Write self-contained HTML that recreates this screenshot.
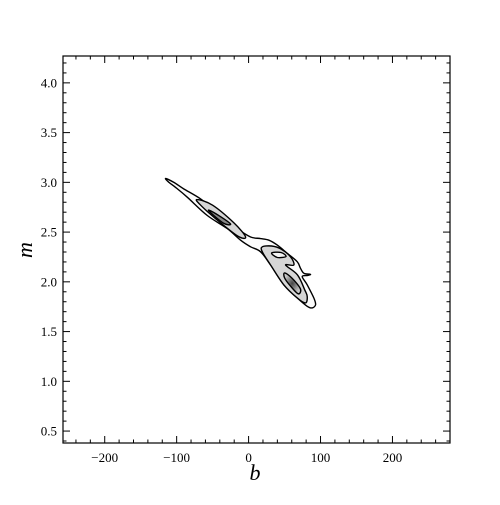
<!DOCTYPE html>
<html><head><meta charset="utf-8"><style>
body{margin:0;background:#fff;}
svg text{font-family:"Liberation Serif",serif;}
</style></head><body>
<svg id="chart" width="500" height="500" xmlns="http://www.w3.org/2000/svg">
<defs>
<radialGradient id="g1" cx="0.5" cy="0.5" r="0.5"><stop offset="0" stop-color="#444"/><stop offset="1" stop-color="#c8c8c8"/></radialGradient>
</defs>
<g id="plot"></g>
<rect x="63" y="56" width="387" height="387" fill="none" stroke="#000" stroke-width="1.2"/>
<g id="axes"></g>
<text x="255" y="480" font-size="22" font-style="italic" text-anchor="middle">b</text>
<text x="32" y="250" font-size="22" font-style="italic" text-anchor="middle" transform="rotate(-90 32 250)">m</text>
</svg>
<script>
const xMin=-258, xMax=280, yMin=0.38, yMax=4.27;
const xTicks=[-200,-100,0,100,200];
const xTickLabels=["\u2212200","\u2212100","0","100","200"];
const yTicks=[0.5,1.0,1.5,2.0,2.5,3.0,3.5,4.0];
const yTickLabels=["0.5","1.0","1.5","2.0","2.5","3.0","3.5","4.0"];
const outerB=[-115.3,-103.8,-89.9,-66.7,-43.5,-15.7,2.8,16.7,28.2,39.9,53.8,67.6,72.2,76.8,86,82,74.6,81.5,90.7,93.1,88.5,81.5,67.6,49.0,30.6,16.7,2.8,-11.1,-29.6,-57.4,-85.1,-101.4,-110.7];
const outerM=[3.039,2.999,2.933,2.834,2.700,2.535,2.451,2.435,2.418,2.369,2.286,2.202,2.136,2.087,2.075,2.065,2.053,1.970,1.838,1.771,1.738,1.754,1.838,1.970,2.169,2.302,2.352,2.418,2.535,2.667,2.850,2.949,2.999];
const lobeB=[19,32,45,58.3,62.9,51.4,68,78,81.5,79.2,67.6,49,30.6,19];
const lobeM=[2.352,2.36,2.33,2.252,2.169,2.169,2.07,1.92,1.854,1.788,1.838,1.970,2.169,2.302];
const upperLobeB=[-71.3,-50,-20,-4.2,-15,-45,-68];
const upperLobeM=[2.827,2.77,2.59,2.452,2.46,2.63,2.78];
const holeB=[32,45,52,40];
const holeM=[2.29,2.295,2.255,2.245];
const coreB=[50,60,72,69,58,50];
const coreM=[2.09,2.04,1.93,1.88,1.96,2.04];
const upperCoreB=[-55,-40,-25,-35,-52];
const upperCoreM=[2.72,2.66,2.58,2.59,2.69];

const L=63,R=450,T=56,Bt=443;
const sx=v=>L+(v-xMin)/(xMax-xMin)*(R-L);
const sy=v=>Bt-(v-yMin)/(yMax-yMin)*(Bt-T);
const NS="http://www.w3.org/2000/svg";
const plot=document.getElementById('plot'), axes=document.getElementById('axes');
function mk(tag,attrs,parent){const e=document.createElementNS(NS,tag);for(const k in attrs)e.setAttribute(k,attrs[k]);parent.appendChild(e);return e;}
function poly(bs,ms,fill,name){
  const P=bs.map((b,i)=>[sx(b),sy(ms[i])]);const n=P.length;
  let d='M'+P[0][0].toFixed(1)+','+P[0][1].toFixed(1);
  for(let i=0;i<n;i++){
    const p0=P[(i-1+n)%n],p1=P[i],p2=P[(i+1)%n],p3=P[(i+2)%n];
    const c1=[p1[0]+(p2[0]-p0[0])/6,p1[1]+(p2[1]-p0[1])/6];
    const c2=[p2[0]-(p3[0]-p1[0])/6,p2[1]-(p3[1]-p1[1])/6];
    d+='C'+c1[0].toFixed(1)+','+c1[1].toFixed(1)+' '+c2[0].toFixed(1)+','+c2[1].toFixed(1)+' '+p2[0].toFixed(1)+','+p2[1].toFixed(1);
  }
  const p=mk('path',{d:d+'Z',fill:fill,stroke:'#000','stroke-width':1.4,'stroke-linejoin':'round'},plot);
  
  
}
poly(outerB,outerM,'#fbfbfb','contour-level-1');
poly(upperLobeB,upperLobeM,'#d6d6d6','contour-level-2-upper');
poly(lobeB,lobeM,'#d6d6d6','contour-level-2-lower');
poly(holeB,holeM,'#f4f4f4','contour-level-2-hole');
poly(coreB,coreM,'url(#g1)','contour-level-3-lower');
poly(upperCoreB,upperCoreM,'#888','contour-level-3-upper');

xTicks.forEach((v,i)=>{
  const x=sx(v);
  const t=mk('line',{x1:x,x2:x,y1:Bt,y2:Bt-7,stroke:'#000'},axes);
  
  
  const t2=mk('line',{x1:x,x2:x,y1:T,y2:T+7,stroke:'#000'},axes);
  
  
  const lb=mk('text',{x:x,y:Bt+19,'font-size':13,'text-anchor':'middle'},axes);
  lb.textContent=xTickLabels[i];
  
  
});
for(let v=-240;v<=280;v+=20){
  if(v%100===0)continue;
  const x=sx(v);if(x<L||x>R)continue;
  mk('line',{x1:x,x2:x,y1:Bt,y2:Bt-3.5,stroke:'#000'},axes);
  mk('line',{x1:x,x2:x,y1:T,y2:T+3.5,stroke:'#000'},axes);
}
yTicks.forEach((v,i)=>{
  const y=sy(v);
  const t=mk('line',{x1:L,x2:L+7,y1:y,y2:y,stroke:'#000'},axes);
  
  
  mk('line',{x1:R,x2:R-7,y1:y,y2:y,stroke:'#000'},axes);
  const lb=mk('text',{x:L-6,y:y+4.5,'font-size':13,'text-anchor':'end'},axes);
  lb.textContent=yTickLabels[i];
  
  
});
for(let k=4;k<=42;k++){
  const v=k/10;if(k%5===0)continue;
  const y=sy(v);if(y<T||y>Bt)continue;
  mk('line',{x1:L,x2:L+3.5,y1:y,y2:y,stroke:'#000'},axes);
  mk('line',{x1:R,x2:R-3.5,y1:y,y2:y,stroke:'#000'},axes);
}
</script>
</body></html>
